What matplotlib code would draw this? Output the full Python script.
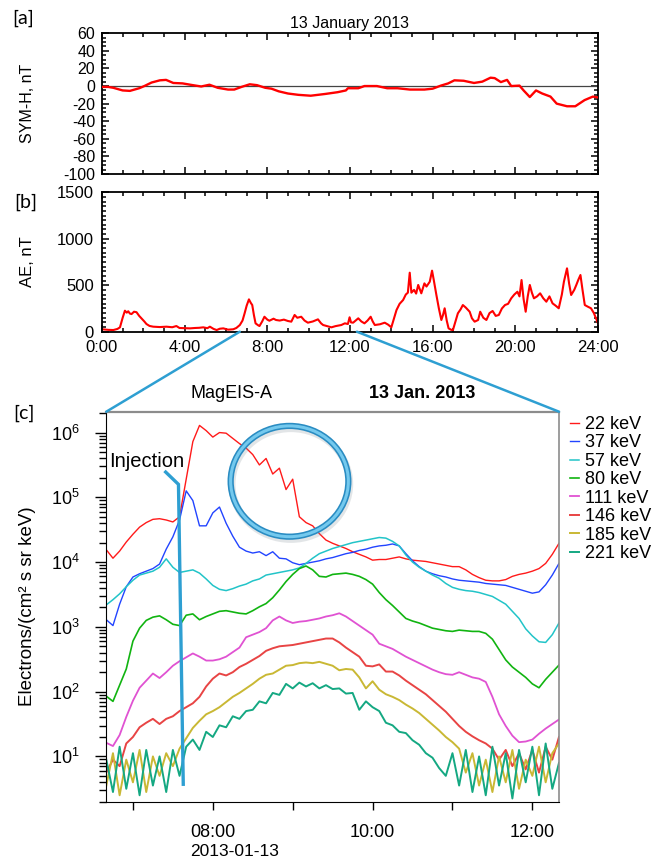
import numpy as np
import matplotlib
matplotlib.use("Agg")
import matplotlib.pyplot as plt
from matplotlib.patches import Ellipse, ConnectionPatch
from matplotlib.ticker import MultipleLocator, FixedLocator, LogLocator, NullFormatter

plt.rcParams['font.family'] = ['Liberation Sans', 'DejaVu Sans']
plt.rcParams['mathtext.fontset'] = 'custom'
plt.rcParams['mathtext.rm'] = 'Liberation Sans'
plt.rcParams['mathtext.it'] = 'Liberation Sans:italic'
plt.rcParams['mathtext.bf'] = 'Liberation Sans:bold'
plt.rcParams['axes.unicode_minus'] = False

# ---- [a] SYM-H (hours UT, nT)
sym_t = [0, 0.3, 0.55, 1.0, 1.35, 1.8, 2.05, 2.4, 2.8, 3.1, 3.45, 3.9, 4.4, 4.8, 5.2, 5.6,
         6.1, 6.4, 6.75, 7.15, 7.5, 7.9, 8.2, 8.55, 9.0, 9.5, 10.1, 10.8, 11.4, 11.8, 11.9,
         12.4, 12.7, 13.3, 13.8, 14.3, 14.9, 15.6, 16.0, 16.4, 16.75, 17.05, 17.5, 18.0,
         18.4, 18.8, 19.0, 19.3, 19.6, 19.8, 20.2, 20.4, 20.7, 21.0, 21.3, 21.7, 22.0,
         22.5, 22.9, 23.35, 23.75, 24.0]
sym_h = [-1, -1, -2, -5, -5.5, -2.5, 0, 4, 6.5, 7, 3.5, 3, 1, -0.5, 1.5, -2,
         -4, -4, -1, 2, 1, -2, -3, -6, -8.5, -10, -11, -9, -7, -5, -2.5,
         -2.5, 0, 0, -2.5, -2.5, -4, -4, -3, 0.5, 3, 6.5, 6, 3.5,
         5, 9.5, 9, 4.5, 7, 0, 0.5, -5, -12.5, -5, -8.5, -12, -20,
         -23, -23, -16, -12, -13]

# ---- [b] AE (hours UT, nT)
ae_t = [0.0, 0.3, 0.55, 0.75, 0.87, 1.0, 1.11, 1.2, 1.27, 1.35, 1.43, 1.55, 1.67, 1.8, 1.91,
        2.05, 2.15, 2.3, 2.48, 2.8, 3.12, 3.4, 3.6, 3.75, 4.0, 4.26, 4.5, 4.7, 4.9, 5.1,
        5.22, 5.4, 5.55, 5.7, 5.87, 6.1, 6.35, 6.5, 6.67, 6.8, 6.9, 7.0, 7.11, 7.2, 7.27,
        7.35, 7.43, 7.55, 7.62, 7.75, 7.86, 8.0, 8.1, 8.3, 8.42, 8.6, 8.8, 9.0, 9.16, 9.32,
        9.45, 9.64, 9.8, 9.96, 10.2, 10.45, 10.6, 10.7, 10.9, 11.1, 11.3, 11.58, 11.75, 11.9,
        11.98, 12.05, 12.15, 12.4, 12.55, 12.7, 12.85, 13.0, 13.1, 13.2, 13.45, 13.68, 13.85,
        14.0, 14.1, 14.25, 14.4, 14.57, 14.7, 14.8, 14.89, 14.97, 15.1, 15.2, 15.3, 15.45,
        15.6, 15.7, 15.86, 15.97, 16.05, 16.18, 16.3, 16.42, 16.5, 16.58, 16.68, 16.77, 16.9,
        16.98, 17.1, 17.22, 17.35, 17.46, 17.6, 17.79, 17.9, 18.03, 18.2, 18.3, 18.45, 18.6,
        18.75, 18.9, 19.05, 19.2, 19.35, 19.5, 19.65, 19.8, 19.95, 20.1, 20.2, 20.3, 20.4,
        20.5, 20.6, 20.7, 20.8, 20.9, 21.05, 21.2, 21.35, 21.5, 21.65, 21.8, 21.95, 22.1,
        22.25, 22.35, 22.5, 22.6, 22.7, 22.85, 22.95, 23.05, 23.15, 23.25, 23.36, 23.5,
        23.66, 23.8, 24.0]
ae_v = [26, 20, 18, 30, 47, 150, 226, 205, 220, 195, 190, 215, 210, 170, 144,
        110, 83, 62, 54, 50, 54, 48, 61, 40, 38, 36, 40, 42, 47, 38,
        54, 30, 18, 32, 36, 22, 26, 40, 72, 120, 197, 280, 348, 310, 287,
        180, 90, 70, 61, 110, 161, 130, 118, 140, 126, 120, 130, 115, 108, 180,
        150, 161, 120, 97, 110, 133, 90, 72, 60, 47, 60, 72, 90, 83,
        155, 100, 97, 144, 110, 90, 120, 161, 110, 72, 80, 97, 75,
        47, 120, 233, 300, 341, 400, 420, 635, 420, 450, 410, 503, 413,
        520, 486, 538, 657, 560, 395, 250, 126, 180, 252, 120, 36, 20,
        18, 110, 198, 240, 287, 260, 215, 144, 108, 126, 215, 150, 126,
        200, 223, 170, 180, 250, 287, 300, 359, 400, 430, 380, 556, 350,
        215, 380, 503, 420, 359, 380, 413, 360, 323, 380, 305, 280, 252,
        400, 538, 682, 520, 395, 450, 503, 560, 610, 450, 287, 270,
        252, 200, 90]

# ---- [c] MagEIS-A electron flux, 5-min samples from 06:40 to 12:20 UT, log10 values
energies = ["22 keV", "37 keV", "57 keV", "80 keV", "111 keV", "146 keV", "185 keV", "221 keV"]
colors = ["#ff1a1a", "#2244ff", "#22c4c8", "#11b411", "#e052d2", "#e84444", "#c9b834", "#14a882"]
widths = [1.0, 1.0, 1.1, 1.2, 1.3, 1.4, 1.4, 1.4]

log_flux_22 = [4.19, 4.06, 4.17, 4.31, 4.43, 4.54, 4.61, 4.66, 4.67, 4.65, 4.62, 4.70,
               5.28, 5.86, 6.11, 6.03, 5.93, 6.00, 5.99, 5.91, 5.83, 5.76, 5.66, 5.50,
               5.60, 5.36, 5.45, 5.12, 5.28, 4.70, 4.61, 4.56, 4.44, 4.34, 4.29, 4.25,
               4.21, 4.16, 4.12, 4.08, 4.03, 4.04, 4.04, 4.06, 4.08, 4.05, 4.03, 4.02,
               4.01, 3.99, 3.97, 3.95, 3.93, 3.93, 3.88, 3.81, 3.76, 3.72, 3.71, 3.71,
               3.73, 3.78, 3.81, 3.83, 3.86, 3.90, 3.98, 4.12, 4.29]
log_flux_37 = [3.11, 3.02, 3.35, 3.62, 3.77, 3.82, 3.86, 3.90, 3.97, 4.20, 4.39, 4.65,
               5.10, 4.95, 4.56, 4.56, 4.76, 4.85, 4.60, 4.40, 4.23, 4.17, 4.14, 4.16,
               4.10, 4.16, 4.06, 4.05, 3.99, 3.96, 3.98, 4.00, 4.02, 4.05, 4.07, 4.10,
               4.13, 4.15, 4.18, 4.20, 4.23, 4.25, 4.26, 4.28, 4.25, 4.13, 4.02, 3.93,
               3.86, 3.82, 3.79, 3.77, 3.74, 3.72, 3.71, 3.70, 3.69, 3.67, 3.66, 3.65,
               3.64, 3.61, 3.58, 3.55, 3.52, 3.54, 3.65, 3.80, 3.98]
log_flux_57 = [3.34, 3.42, 3.51, 3.62, 3.72, 3.80, 3.83, 3.86, 3.92, 4.05, 3.92, 3.84,
               3.86, 3.88, 3.83, 3.74, 3.64, 3.58, 3.56, 3.59, 3.63, 3.66, 3.71, 3.74,
               3.80, 3.82, 3.84, 3.86, 3.88, 3.91, 3.98, 4.06, 4.13, 4.17, 4.21, 4.24,
               4.27, 4.30, 4.32, 4.34, 4.36, 4.38, 4.37, 4.32, 4.25, 4.11, 4.00, 3.92,
               3.86, 3.80, 3.75, 3.67, 3.61, 3.58, 3.56, 3.55, 3.53, 3.50, 3.47, 3.41,
               3.35, 3.24, 3.13, 2.97, 2.86, 2.77, 2.76, 2.88, 3.06]
log_flux_80 = [1.93, 1.85, 2.10, 2.35, 2.78, 2.98, 3.10, 3.15, 3.17, 3.11, 3.04, 3.02,
               3.18, 3.20, 3.11, 3.16, 3.20, 3.24, 3.25, 3.23, 3.21, 3.20, 3.25, 3.31,
               3.36, 3.45, 3.57, 3.70, 3.81, 3.90, 3.94, 3.88, 3.78, 3.77, 3.81, 3.82,
               3.83, 3.81, 3.78, 3.73, 3.66, 3.53, 3.42, 3.33, 3.23, 3.13, 3.09, 3.06,
               3.02, 2.98, 2.96, 2.94, 2.93, 2.95, 2.94, 2.93, 2.93, 2.90, 2.81, 2.65,
               2.49, 2.38, 2.30, 2.22, 2.12, 2.06, 2.19, 2.30, 2.41]
log_flux_111 = [1.21, 1.16, 1.33, 1.61, 1.86, 2.06, 2.17, 2.28, 2.21, 2.30, 2.40, 2.47,
                2.53, 2.59, 2.54, 2.48, 2.48, 2.50, 2.54, 2.61, 2.68, 2.84, 2.88, 2.92,
                2.98, 3.10, 3.16, 3.10, 3.06, 3.08, 3.09, 3.11, 3.13, 3.16, 3.18, 3.21,
                3.16, 3.09, 3.02, 2.95, 2.88, 2.74, 2.70, 2.66, 2.60, 2.54, 2.49, 2.44,
                2.39, 2.34, 2.30, 2.27, 2.26, 2.30, 2.26, 2.22, 2.20, 2.15, 1.92, 1.65,
                1.47, 1.32, 1.22, 1.23, 1.26, 1.35, 1.43, 1.50, 1.57]
log_flux_146 = [0.75, 0.95, 0.85, 1.20, 1.30, 1.45, 1.52, 1.58, 1.50, 1.58, 1.62, 1.70,
                1.76, 1.82, 1.92, 2.08, 2.20, 2.28, 2.25, 2.30, 2.38, 2.43, 2.49, 2.55,
                2.63, 2.67, 2.70, 2.71, 2.72, 2.74, 2.76, 2.78, 2.80, 2.82, 2.82, 2.76,
                2.68, 2.61, 2.54, 2.40, 2.39, 2.42, 2.31, 2.31, 2.25, 2.17, 2.10, 2.03,
                1.96, 1.87, 1.78, 1.69, 1.58, 1.47, 1.38, 1.31, 1.25, 1.20, 1.12, 0.95,
                1.10, 0.85, 1.05, 0.80, 1.10, 0.75, 1.15, 0.95, 1.30]
log_flux_185 = [0.55, 1.05, 0.40, 0.95, 0.60, 1.10, 0.45, 1.00, 0.70, 1.05, 0.85, 1.12,
                1.28, 1.44, 1.55, 1.65, 1.70, 1.76, 1.84, 1.92, 1.98, 2.05, 2.12, 2.20,
                2.26, 2.28, 2.34, 2.40, 2.41, 2.44, 2.45, 2.44, 2.46, 2.43, 2.40, 2.33,
                2.35, 2.34, 2.22, 2.05, 2.16, 2.03, 1.96, 1.92, 1.87, 1.80, 1.74, 1.67,
                1.58, 1.49, 1.40, 1.30, 1.22, 1.12, 0.75, 1.05, 0.55, 0.95, 0.45, 1.00,
                0.60, 1.10, 0.50, 0.95, 0.70, 1.15, 0.60, 1.05, 1.20]
log_flux_221 = [0.95, 0.45, 1.15, 0.50, 1.05, 0.40, 1.10, 0.55, 1.00, 0.45, 1.10, 0.70,
                1.15, 1.26, 1.10, 1.38, 1.30, 1.48, 1.45, 1.62, 1.58, 1.70, 1.72, 1.85,
                1.82, 1.98, 1.95, 2.12, 2.05, 2.14, 2.08, 2.13, 2.05, 2.10, 2.04, 2.05,
                1.97, 1.98, 1.72, 1.85, 1.76, 1.70, 1.52, 1.48, 1.38, 1.36, 1.25, 1.18,
                1.05, 0.98, 0.82, 0.70, 1.05, 0.55, 1.10, 0.45, 1.00, 0.40, 1.15, 0.55,
                1.05, 0.35, 1.10, 0.60, 1.15, 0.40, 1.20, 0.50, 0.90]
log_fluxes = [log_flux_22, log_flux_37, log_flux_57, log_flux_80,
              log_flux_111, log_flux_146, log_flux_185, log_flux_221]
decades = [1e1, 1e2, 1e3, 1e4, 1e5, 1e6]

t_start, t_end = 6 + 40 / 60, 12 + 20 / 60
t_c = t_start + np.arange(len(log_flux_22)) * 5 / 60

blue = "#2e9fd2"

fig = plt.figure(figsize=(6.55, 8.6), dpi=100)
ax_a = fig.add_axes([0.1557, 0.7977, 0.7573, 0.1636])
ax_b = fig.add_axes([0.1557, 0.6143, 0.7573, 0.1621])
ax_c = fig.add_axes([0.1623, 0.0678, 0.6911, 0.4535])

# panel a
ax_a.plot(sym_t, sym_h, color="red", lw=1.7, zorder=3)
ax_a.axhline(0, color="#444444", lw=0.9, zorder=2)
ax_a.set_xlim(0, 24)
ax_a.set_ylim(-100, 60)
ax_a.yaxis.set_major_locator(MultipleLocator(20))
ax_a.yaxis.set_minor_locator(MultipleLocator(5))
ax_a.xaxis.set_major_locator(FixedLocator(range(0, 25, 4)))
ax_a.xaxis.set_minor_locator(MultipleLocator(1))
ax_a.tick_params(which="both", direction="in", top=True, right=True, labelbottom=False,
                 labelsize=11.5, width=1.1, pad=5)
ax_a.tick_params(which="major", length=5)
ax_a.tick_params(which="minor", length=3)
ax_a.set_ylabel("SYM-H, nT", fontsize=11.5)
ax_a.yaxis.set_label_coords(-0.135, 0.5)
ax_a.set_title("13 January 2013", fontsize=11.5, pad=4)

# panel b
ax_b.plot(ae_t, ae_v, color="red", lw=1.5)
ax_b.set_xlim(0, 24)
ax_b.set_ylim(0, 1500)
ax_b.yaxis.set_major_locator(MultipleLocator(500))
ax_b.yaxis.set_minor_locator(MultipleLocator(50))
ax_b.xaxis.set_major_locator(FixedLocator(range(0, 25, 4)))
ax_b.xaxis.set_minor_locator(MultipleLocator(1))
ax_b.set_xticklabels(["%d:00" % h for h in range(0, 25, 4)])
ax_b.tick_params(which="both", direction="in", top=True, right=True,
                 labelsize=12, width=1.1, pad=6)
ax_b.tick_params(which="major", length=5)
ax_b.tick_params(which="minor", length=3)
ax_b.set_ylabel("AE, nT", fontsize=12)
ax_b.yaxis.set_label_coords(-0.135, 0.5)
for ax in (ax_a, ax_b):
    for s in ax.spines.values():
        s.set_linewidth(1.3)

# panel c
for lf, c, lw, lab in zip(log_fluxes, colors, widths, energies):
    ax_c.plot(t_c, 10 ** np.array(lf), color=c, lw=lw, label=lab)
ax_c.set_yscale("log")
ax_c.set_xlim(t_start, t_end)
ax_c.set_ylim(2, 2.1e6)
ax_c.xaxis.set_major_locator(FixedLocator([8, 10, 12]))
ax_c.xaxis.set_minor_locator(FixedLocator([7, 9, 11]))
ax_c.set_xticklabels(["08:00", "10:00", "12:00"])
ax_c.yaxis.set_major_locator(FixedLocator(decades))
ax_c.yaxis.set_minor_locator(LogLocator(base=10, subs=np.arange(2, 10), numticks=20))
ax_c.yaxis.set_minor_formatter(NullFormatter())
ax_c.tick_params(which="both", direction="out", top=False, right=False, width=1.0)
ax_c.tick_params(axis="y", which="major", length=8, labelsize=13, pad=11)
ax_c.tick_params(axis="y", which="minor", length=5)
ax_c.tick_params(axis="x", which="both", length=6, labelsize=13, pad=10)
ax_c.spines["top"].set_color("#8c8c8c")
ax_c.spines["right"].set_color("#8c8c8c")
ax_c.spines["top"].set_linewidth(1.6)
ax_c.spines["right"].set_linewidth(1.2)
ax_c.set_ylabel("Electrons/(cm² s sr keV)", fontsize=13.5)
ax_c.yaxis.set_label_coords(-0.156, 0.5)
fig.text(190 / 655, 1 - 851 / 860, "2013-01-13", fontsize=12.5, ha="left", va="center")

leg = fig.legend(loc="upper left", bbox_to_anchor=(570 / 655, 1 - 416 / 860),
                 frameon=False, fontsize=13, handlelength=0.5, handletextpad=0.35,
                 labelspacing=0.08, borderaxespad=0, borderpad=0)

# header above panel c
fig.text(232 / 655, 1 - 393 / 860, "MagEIS-A", fontsize=13, ha="center", va="center")
fig.text(422 / 655, 1 - 393 / 860, "13 Jan. 2013", fontsize=13, fontweight="bold",
         ha="center", va="center")

# panel labels
lab_font = dict(family=["Lato", "DejaVu Sans"], fontsize=14)
fig.text(0.035, 1 - 18 / 860, "[a]", ha="center", va="center", **lab_font)
fig.text(0.040, 1 - 202 / 860, "[b]", ha="center", va="center", **lab_font)
fig.text(0.037, 1 - 413 / 860, "[c]", ha="center", va="center", **lab_font)

# zoom lines from AE time axis to panel c
for xa, xb in ((t_start, 0), (t_end, 1)):
    con = ConnectionPatch(xyA=(xa, 0), coordsA=ax_b.transData,
                          xyB=(xb, 1), coordsB=ax_c.transAxes,
                          color=blue, lw=1.8)
    fig.add_artist(con)

# injection marker
injection_path = ([7.41, 7.57, 7.63], [10 ** 5.39, 10 ** 5.20, 10 ** 0.57])
ax_c.plot(*injection_path, color=blue, lw=2.4, solid_joinstyle="miter", zorder=5)
ax_c.text(7.17, 10 ** 5.56, "Injection", fontsize=14.5, ha="center", va="center", zorder=6)

# highlight circle
ctr, w, h = (0.4047, 0.8215), 0.26, 0.284
ax_c.add_patch(Ellipse((ctr[0] + 0.003, ctr[1] - 0.007), w, h, transform=ax_c.transAxes,
                       fill=False, ec="#7f8c94", lw=5, alpha=0.22, zorder=6, clip_on=False))
ax_c.add_patch(Ellipse(ctr, w, h, transform=ax_c.transAxes, fill=False,
                       ec="#2a8cc2", lw=4.5, zorder=7, clip_on=False))
ax_c.add_patch(Ellipse(ctr, w, h, transform=ax_c.transAxes, fill=False,
                       ec="#74c9ee", lw=2.2, zorder=8, clip_on=False))

fig.savefig("out.png", dpi=100)
